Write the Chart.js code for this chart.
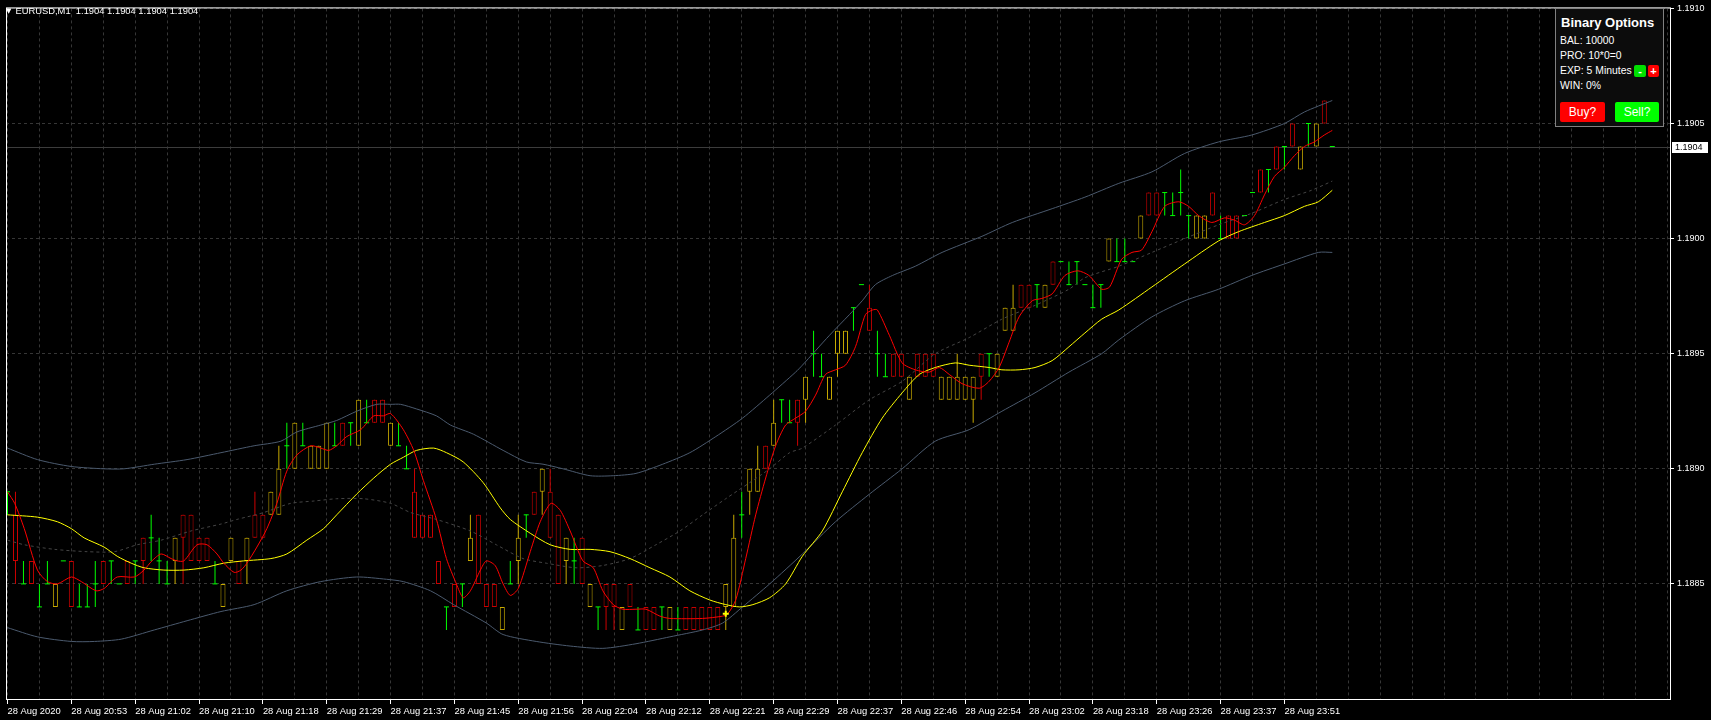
<!DOCTYPE html>
<html><head><meta charset="utf-8">
<script src="https://cdn.jsdelivr.net/npm/chart.js@4/dist/chart.umd.min.js"></script>
<style>
html,body{margin:0;padding:0;background:#000;overflow:hidden;}
#wrap{position:relative;width:1711px;height:720px;background:#000;}
#c{position:absolute;left:0;top:0;}
#hdr{position:absolute;left:6px;top:5px;color:#fff;font:9.4px "Liberation Sans",Arial,sans-serif;white-space:pre;line-height:12px;}
#hdr .tri{font:7px "DejaVu Sans",sans-serif;margin-right:4px;position:relative;top:-1px;}
#panel{position:absolute;left:1555px;top:8px;width:109px;height:119px;box-sizing:border-box;border:1px solid #808080;background:#0c0c0c;font-family:"Liberation Sans",Arial,sans-serif;color:#fff;}
#panel .ttl{position:absolute;left:5px;top:6px;font-weight:bold;font-size:13px;line-height:15px;white-space:nowrap;}
#panel .ln{position:absolute;left:4px;font-size:10.4px;line-height:13px;white-space:nowrap;}
#panel .sb{position:absolute;top:56px;width:12px;height:12px;border-radius:2px;color:#fff;font-weight:bold;font-size:11px;line-height:12px;text-align:center;}
#panel .btn{position:absolute;top:93px;height:20px;border-radius:2px;color:#fff;font-size:12px;line-height:20px;text-align:center;}
</style></head>
<body>
<div id="wrap">
<canvas id="c" width="1711" height="720"></canvas>
<div id="hdr"><span class="tri">▼</span><span id="hdrtxt"></span></div>
<div id="panel">
  <div class="ttl">Binary Options</div>
  <div class="ln" style="top:25px">BAL: 10000</div>
  <div class="ln" style="top:40px">PRO: 10*0=0</div>
  <div class="ln" style="top:55px">EXP: 5 Minutes</div>
  <div class="sb" style="left:78px;background:#00e000;">-</div>
  <div class="sb" style="left:92px;width:11px;background:#ff0000;">+</div>
  <div class="ln" style="top:70px">WIN: 0%</div>
  <div class="btn" style="left:4px;width:45px;background:#ff0000;">Buy?</div>
  <div class="btn" style="left:59px;width:44px;background:#00ff00;">Sell?</div>
</div>
</div>
<script>
// ---------- data ----------
const symbol = "EURUSD,M1";
const timeLabels = ["28 Aug 2020","28 Aug 20:53","28 Aug 21:02","28 Aug 21:10","28 Aug 21:18","28 Aug 21:29","28 Aug 21:37","28 Aug 21:45","28 Aug 21:56","28 Aug 22:04","28 Aug 22:12","28 Aug 22:21","28 Aug 22:29","28 Aug 22:37","28 Aug 22:46","28 Aug 22:54","28 Aug 23:02","28 Aug 23:18","28 Aug 23:26","28 Aug 23:37","28 Aug 23:51"];
const priceTicks = [1.1880,1.1885,1.1890,1.1895,1.1900,1.1905,1.1910];
const priceTickLabels = ["","1.1885","1.1890","1.1895","1.1900","1.1905","1.1910"];

const opens = [1.1889,1.1888,1.1885,1.1886,1.1884,1.1885,1.1884,1.1886,1.1886,1.1884,
1.1884,1.1885,1.1886,1.1886,1.1885,1.1886,1.1886,1.1887,1.1887,1.1886,
1.1885,1.1886,1.1888,1.1888,1.1887,1.1887,1.1885,1.1884,1.1886,1.1886,
1.1886,1.1888,1.1888,1.1888,1.1888,1.1891,1.1890,1.1891,1.1890,1.1890,
1.1890,1.1891,1.1892,1.1892,1.1891,1.1892,1.1893,1.1893,1.1891,1.1891,
1.1890,1.1889,1.1888,1.1888,1.1886,1.1884,1.1885,1.1885,1.1886,1.1888,
1.1885,1.1885,1.1883,1.1885,1.1886,1.1888,1.1889,1.1889,1.1889,1.1888,
1.1886,1.1886,1.1887,1.1884,1.1884,1.1885,1.1885,1.1883,1.1885,1.1883,
1.1884,1.1884,1.1884,1.1883,1.1883,1.1884,1.1884,1.1884,1.1884,1.1884,
1.1884,1.1884,1.1888,1.1889,1.1889,1.1891,1.1891,1.1893,1.1892,1.1893,
1.1893,1.1895,1.1894,1.1893,1.1895,1.1895,1.1897,1.1898,1.1897,1.1895,
1.1894,1.1895,1.1895,1.1893,1.1895,1.1895,1.1895,1.1893,1.1893,1.1893,
1.1893,1.1893,1.1895,1.1895,1.1894,1.1896,1.1896,1.1898,1.1898,1.1898,
1.1897,1.1899,1.1899,1.1898,1.1899,1.1898,1.1897,1.1898,1.1899,1.1899,
1.1899,1.1899,1.1900,1.1902,1.1902,1.1902,1.1901,1.1902,1.1901,1.1900,
1.1900,1.1902,1.1900,1.1901,1.1901,1.1901,1.1902,1.1903,1.1903,1.1904,
1.1904,1.1905,1.1903,1.1905,1.1904,1.1906,1.1904];

const highs = [1.1889,1.1889,1.1886,1.1886,1.1885,1.1886,1.1885,1.1886,1.1886,1.1885,
1.1885,1.1886,1.1886,1.1886,1.1885,1.1886,1.1886,1.1887,1.1888,1.1887,
1.1886,1.1887,1.1888,1.1888,1.1887,1.1887,1.1886,1.1885,1.1887,1.1886,
1.1887,1.1889,1.1888,1.1889,1.1891,1.1892,1.1892,1.1892,1.1891,1.1891,
1.1892,1.1892,1.1892,1.1892,1.1893,1.1893,1.1893,1.1893,1.1892,1.1892,
1.1891,1.1890,1.1888,1.1888,1.1886,1.1884,1.1885,1.1885,1.1888,1.1888,
1.1885,1.1885,1.1884,1.1886,1.1888,1.1888,1.1889,1.1890,1.1890,1.1888,
1.1887,1.1887,1.1887,1.1885,1.1884,1.1885,1.1885,1.1884,1.1885,1.1884,
1.1884,1.1884,1.1884,1.1884,1.1884,1.1884,1.1884,1.1884,1.1884,1.1884,
1.1885,1.1888,1.1889,1.1890,1.1891,1.1891,1.1893,1.1893,1.1893,1.1893,
1.1894,1.1896,1.1895,1.1894,1.1896,1.1896,1.1897,1.1898,1.1898,1.1896,
1.1895,1.1895,1.1895,1.1894,1.1895,1.1895,1.1895,1.1894,1.1894,1.1895,
1.1894,1.1894,1.1895,1.1895,1.1895,1.1897,1.1898,1.1898,1.1898,1.1898,
1.1898,1.1899,1.1899,1.1899,1.1899,1.1898,1.1898,1.1898,1.1900,1.1900,
1.1900,1.1899,1.1901,1.1902,1.1902,1.1902,1.1902,1.1903,1.1901,1.1901,
1.1901,1.1902,1.1901,1.1901,1.1901,1.1901,1.1902,1.1903,1.1903,1.1904,
1.1904,1.1905,1.1904,1.1905,1.1905,1.1906,1.1904];

const lows = [1.1888,1.1885,1.1885,1.1885,1.1884,1.1885,1.1884,1.1886,1.1884,1.1884,
1.1884,1.1884,1.1885,1.1885,1.1885,1.1885,1.1885,1.1885,1.1886,1.1885,
1.1885,1.1885,1.1885,1.1886,1.1886,1.1886,1.1885,1.1884,1.1886,1.1885,
1.1885,1.1887,1.1887,1.1888,1.1888,1.1890,1.1890,1.1891,1.1890,1.1890,
1.1890,1.1891,1.1891,1.1891,1.1891,1.1892,1.1892,1.1892,1.1891,1.1891,
1.1890,1.1887,1.1887,1.1887,1.1885,1.1883,1.1884,1.1884,1.1886,1.1885,
1.1884,1.1884,1.1883,1.1885,1.1885,1.1887,1.1888,1.1888,1.1887,1.1885,
1.1885,1.1885,1.1885,1.1884,1.1883,1.1883,1.1883,1.1883,1.1884,1.1883,
1.1883,1.1883,1.1883,1.1883,1.1883,1.1883,1.1883,1.1883,1.1883,1.1883,
1.1883,1.1884,1.1887,1.1888,1.1889,1.1890,1.1891,1.1892,1.1892,1.1891,
1.1892,1.1894,1.1894,1.1893,1.1894,1.1895,1.1896,1.1898,1.1896,1.1894,
1.1894,1.1894,1.1894,1.1893,1.1894,1.1894,1.1894,1.1893,1.1893,1.1893,
1.1893,1.1892,1.1893,1.1894,1.1894,1.1896,1.1896,1.1897,1.1897,1.1897,
1.1897,1.1898,1.1899,1.1898,1.1898,1.1898,1.1897,1.1897,1.1899,1.1899,
1.1899,1.1899,1.1900,1.1901,1.1901,1.1901,1.1901,1.1901,1.1900,1.1900,
1.1900,1.1901,1.1900,1.1900,1.1900,1.1901,1.1902,1.1902,1.1902,1.1903,
1.1903,1.1904,1.1903,1.1904,1.1904,1.1905,1.1904];

const closes = [1.1889,1.1886,1.1885,1.1885,1.1884,1.1885,1.1885,1.1886,1.1884,1.1884,
1.1884,1.1885,1.1885,1.1886,1.1885,1.1885,1.1886,1.1886,1.1887,1.1886,
1.1885,1.1887,1.1887,1.1886,1.1886,1.1886,1.1885,1.1885,1.1887,1.1885,
1.1887,1.1887,1.1887,1.1889,1.1890,1.1891,1.1892,1.1891,1.1891,1.1891,
1.1892,1.1891,1.1891,1.1892,1.1893,1.1892,1.1892,1.1892,1.1892,1.1891,
1.1890,1.1887,1.1887,1.1887,1.1885,1.1884,1.1884,1.1885,1.1887,1.1885,
1.1884,1.1884,1.1884,1.1885,1.1887,1.1888,1.1888,1.1890,1.1887,1.1885,
1.1887,1.1886,1.1885,1.1885,1.1884,1.1884,1.1884,1.1884,1.1884,1.1883,
1.1883,1.1883,1.1884,1.1884,1.1883,1.1883,1.1883,1.1883,1.1883,1.1883,
1.1885,1.1887,1.1888,1.1890,1.1890,1.1890,1.1892,1.1893,1.1892,1.1892,
1.1894,1.1895,1.1894,1.1894,1.1896,1.1896,1.1897,1.1898,1.1896,1.1895,
1.1894,1.1894,1.1894,1.1894,1.1894,1.1894,1.1894,1.1894,1.1894,1.1894,
1.1894,1.1894,1.1894,1.1895,1.1895,1.1897,1.1897,1.1897,1.1897,1.1898,
1.1898,1.1898,1.1899,1.1898,1.1899,1.1898,1.1897,1.1898,1.1900,1.1899,
1.1899,1.1899,1.1901,1.1901,1.1901,1.1902,1.1901,1.1902,1.1901,1.1901,
1.1901,1.1901,1.1900,1.1900,1.1900,1.1901,1.1902,1.1902,1.1903,1.1903,
1.1904,1.1904,1.1904,1.1905,1.1905,1.1905,1.1904];

// indicator lines: [bar index, price]
const fastMA = [[0,1.18890],[0.9,1.18885],[2.1,1.18874],[3.75,1.18856],[5,1.18851],[6.25,1.18850],[8,1.18853],[9.25,1.18851],[11.1,1.18847],[12.1,1.18848],[13.75,1.18853],[15.9,1.18853],[17.1,1.18856],[18.1,1.18860],[19.25,1.18863],[20.5,1.18861],[21.25,1.18860],[22.1,1.18860],[23.75,1.18867],[25,1.18867],[26.25,1.18863],[27.1,1.18859],[28.4,1.18855],[29.25,1.18856],[30,1.18859],[31.25,1.18866],[32.5,1.18874],[33.75,1.18885],[35,1.18899],[36.25,1.18906],[38,1.18910],[39.25,1.18909],[40.25,1.18908],[41.25,1.18910],[42.5,1.18914],[44.25,1.18917],[45.9,1.18923],[47.1,1.18923],[48,1.18924],[49.6,1.18917],[50.9,1.18908],[52.1,1.18895],[53.75,1.18878],[55,1.18861],[56.25,1.18850],[57.1,1.18844],[58,1.18847],[59.25,1.18856],[60,1.18860],[61.1,1.18858],[62.1,1.18850],[63,1.18845],[64,1.18848],[65.5,1.18864],[66.75,1.18877],[68.1,1.18885],[69.25,1.18882],[70.5,1.18873],[72.1,1.18860],[73.4,1.18857],[74.6,1.18847],[75.9,1.18841],[77.1,1.18839],[78.75,1.18839],[80,1.18839],[81.75,1.18836],[83,1.18835],[87.1,1.18835],[89.6,1.18836],[90.25,1.18837],[91.25,1.18843],[92.5,1.18861],[93.75,1.18880],[95,1.18896],[96.25,1.18910],[97.5,1.18919],[98.75,1.18922],[100,1.18925],[101.25,1.18932],[102.5,1.18941],[103.75,1.18943],[105,1.18945],[106.25,1.18953],[107.5,1.18967],[108.4,1.18969],[109,1.18969],[110.5,1.18958],[112.1,1.18946],[113.75,1.18943],[115.5,1.18942],[116.75,1.18944],[118,1.18941],[119.6,1.18937],[121.75,1.18935],[123,1.18938],[124.25,1.18944],[125.5,1.18955],[126.75,1.18966],[128.4,1.18973],[129.6,1.18974],[130.9,1.18976],[132.5,1.18984],[134.1,1.18986],[135.5,1.18984],[137.1,1.18978],[138.1,1.18979],[139.6,1.18991],[140.9,1.18994],[142.1,1.18995],[143.4,1.19003],[145,1.19014],[146.75,1.19016],[148,1.19014],[149.25,1.19010],[150.9,1.19007],[152.5,1.19009],[153.75,1.19008],[155,1.19006],[156.25,1.19010],[157.5,1.19019],[158.75,1.19027],[160,1.19031],[161.25,1.19036],[162.5,1.19040],[163.75,1.19042],[165,1.19045],[166,1.19047]];

const slowMA = [[0,1.18880],[3.75,1.18879],[6.25,1.18877],[8,1.18874],[9.6,1.18870],[12.1,1.18866],[13.75,1.18862],[15.5,1.18859],[17.1,1.18857],[19.6,1.18856],[22.1,1.18856],[24.6,1.18857],[27.1,1.18859],[29.6,1.18860],[33,1.18861],[35,1.18863],[37.5,1.18869],[39.6,1.18874],[41.25,1.18880],[43.75,1.18889],[45.9,1.18896],[48,1.18902],[49.6,1.18905],[51.25,1.18908],[53.4,1.18909],[55,1.18907],[57.1,1.18903],[59.6,1.18894],[61.75,1.18883],[63,1.18878],[65.5,1.18872],[68,1.18867],[70.5,1.18865],[73,1.18865],[75.5,1.18864],[78,1.18861],[80.5,1.18857],[83,1.18853],[85.5,1.18847],[88,1.18843],[90,1.18841],[91.75,1.18840],[93.4,1.18841],[95.5,1.18844],[97.5,1.18850],[99.6,1.18862],[102.1,1.18873],[104.6,1.18890],[107.1,1.18907],[109.6,1.18922],[112.1,1.18933],[114.25,1.18941],[116.25,1.18944],[118.75,1.18946],[120.5,1.18945],[123,1.18944],[124.6,1.18943],[126.75,1.18943],[128.75,1.18944],[130.9,1.18947],[133,1.18953],[135,1.18959],[137.1,1.18965],[139.25,1.18969],[143.4,1.18979],[147.5,1.18989],[151.75,1.18999],[154.25,1.19003],[157.5,1.19007],[160,1.19010],[162.5,1.19014],[164.25,1.19016],[166,1.19021]];

const bandMid = [[0,1.18869],[2.1,1.18867],[5.9,1.18865],[10,1.18864],[13.4,1.18864],[16.25,1.18867],[19.25,1.18869],[23,1.18873],[26.75,1.18876],[28.75,1.18878],[32.1,1.18881],[35.5,1.18885],[38.4,1.18886],[41.25,1.18887],[44.6,1.18887],[48,1.18885],[50.5,1.18881],[53.75,1.18878],[58,1.18873],[61.25,1.18867],[64.6,1.18861],[67.5,1.18859],[71.25,1.18857],[74.6,1.18858],[78,1.18861],[81.25,1.18867],[84.25,1.18873],[87.1,1.18880],[90,1.18887],[93,1.18894],[95.5,1.18900],[98,1.18907],[99.6,1.18909],[103.75,1.18919],[108,1.18930],[112.1,1.18938],[116.25,1.18950],[120.5,1.18957],[124.6,1.18965],[128.75,1.18971],[133,1.18978],[135,1.18983],[139.25,1.18988],[143.4,1.18994],[147.5,1.19000],[151.75,1.19006],[155.9,1.19011],[160,1.19017],[163.4,1.19021],[166,1.19025]];

const bandUpper = [[0,1.18909],[3.75,1.18904],[8,1.18901],[12.1,1.18900],[14.6,1.18900],[18.4,1.18902],[22.5,1.18904],[26.75,1.18907],[30.9,1.18910],[34.25,1.18912],[36.25,1.18916],[39.25,1.18919],[41.25,1.18921],[43.75,1.18925],[46.25,1.18928],[48,1.18928],[49.25,1.18928],[51.25,1.18926],[53.75,1.18923],[55.5,1.18919],[58.4,1.18915],[62.1,1.18908],[65,1.18903],[67.1,1.18902],[69.6,1.18900],[73,1.18897],[75.9,1.18897],[78.75,1.18898],[82.1,1.18902],[85.5,1.18907],[88.75,1.18914],[92.1,1.18922],[95.5,1.18932],[98.75,1.18942],[99.6,1.18945],[103,1.18958],[105.5,1.18967],[107.1,1.18973],[108.75,1.18980],[110.9,1.18984],[113.75,1.18988],[117.1,1.18994],[122.1,1.19001],[125.9,1.19007],[130.9,1.19013],[135,1.19018],[139.25,1.19024],[143.4,1.19029],[147.5,1.19037],[151.75,1.19042],[155.9,1.19045],[160,1.19050],[162.5,1.19055],[166,1.19060]];

const bandLower = [[0,1.18831],[3.75,1.18827],[8,1.18825],[10.9,1.18825],[14.25,1.18826],[18.4,1.18830],[22.5,1.18834],[26.75,1.18838],[30.9,1.18841],[35,1.18847],[39.25,1.18851],[43.75,1.18853],[47.5,1.18852],[49.6,1.18851],[53,1.18847],[55.9,1.18841],[60,1.18833],[62.1,1.18828],[66.25,1.18825],[70.5,1.18823],[74.6,1.18822],[78.75,1.18824],[83,1.18827],[87.1,1.18830],[89.6,1.18833],[92.1,1.18840],[95.5,1.18850],[99.6,1.18863],[103.75,1.18877],[108,1.18889],[112.1,1.18900],[116.25,1.18912],[120.5,1.18917],[124.6,1.18925],[128.75,1.18933],[133,1.18942],[137.1,1.18950],[139.25,1.18956],[143.4,1.18966],[147.5,1.18973],[151.75,1.18978],[155.9,1.18984],[160,1.18989],[164.25,1.18994],[166,1.18994]];

const signalIdx = [90];
const signalPrice = [1.18837];

// ---------- styles ----------
const BULL = '#c8aa00', BEAR = '#cc0000', DOJI = '#00ff00';
const GRID = '#363636';
const FONT = '"Liberation Sans", Arial, sans-serif';

// ---------- build datasets ----------
const N = closes.length;
const wickData = [], wickCols = [], bodyData = [], bodyCols = [], capData = [];
for (let i = 0; i < N; i++) {
  const o = opens[i], c = closes[i], h = highs[i], l = lows[i];
  const col = o === c ? DOJI : (c > o ? BULL : BEAR);
  if (h > l) { wickData.push({x: i, y: [l, h]}); wickCols.push(col); }
  if (o !== c) { bodyData.push({x: i, y: [Math.min(o, c), Math.max(o, c)]}); bodyCols.push(col); }
  else capData.push({x: i, y: o});
}
const pts = arr => arr.map(p => ({x: p[0], y: p[1]}));
const last = N - 1;
document.getElementById('hdrtxt').textContent =
  symbol + '  ' + [opens[last], highs[last], lows[last], closes[last]].map(v => v.toFixed(4)).join(' ');

const gridIdx = [];
for (let v = 0; v <= 208; v += 4) gridIdx.push(v);
const labelAt = v => (v % 8 === 0 && v / 8 < timeLabels.length) ? timeLabels[v / 8] : '';
const yLabelAt = v => { const k = priceTicks.findIndex(t => Math.abs(t - v) < 1e-7); return k >= 0 ? priceTickLabels[k] : ''; };

const framePlugin = {
  id: 'frame',
  beforeDatasetsDraw(chart) {
    const {ctx, chartArea: a, scales: {y}} = chart;
    const py = Math.round(y.getPixelForValue(closes[last])) + 0.5;
    ctx.save();
    ctx.strokeStyle = '#3c3c3c'; ctx.lineWidth = 1;
    ctx.beginPath(); ctx.moveTo(a.left, py); ctx.lineTo(a.right, py); ctx.stroke();
    ctx.restore();
  },
  afterDraw(chart) {
    const {ctx, chartArea: a, scales: {y}} = chart;
    ctx.save();
    ctx.strokeStyle = '#ffffff'; ctx.lineWidth = 1;
    ctx.strokeRect(a.left + 0.5, a.top - 0.5, a.right - a.left, a.bottom - a.top + 1);
    const py = Math.round(y.getPixelForValue(closes[last]));
    ctx.fillStyle = '#ffffff';
    ctx.fillRect(a.right + 2, py - 5, 36, 11);
    ctx.fillStyle = '#000000';
    ctx.font = '9px ' + FONT;
    ctx.textBaseline = 'middle'; ctx.textAlign = 'left';
    ctx.fillText(closes[last].toFixed(4), a.right + 5, py + 0.5);
    ctx.restore();
  }
};

new Chart(document.getElementById('c'), {
  type: 'bar',
  data: {
    datasets: [
      {type: 'line', label: 'signal', data: signalIdx.map((x, k) => ({x, y: signalPrice[k]})), showLine: false,
       pointStyle: 'cross', pointRadius: 3, pointBorderColor: '#ffff00', pointBorderWidth: 2, order: 0},
      {type: 'line', label: 'fast', data: pts(fastMA), borderColor: '#ff0000', borderWidth: 1, pointRadius: 0, tension: 0.25, order: 1},
      {type: 'line', label: 'slow', data: pts(slowMA), borderColor: '#ffff00', borderWidth: 1, pointRadius: 0, tension: 0.25, order: 1},
      {type: 'line', label: 'mid', data: pts(bandMid), borderColor: '#444444', borderWidth: 1, borderDash: [3, 3], pointRadius: 0, tension: 0.25, order: 2},
      {type: 'line', label: 'upper', data: pts(bandUpper), borderColor: '#4b5a6e', borderWidth: 1, pointRadius: 0, tension: 0.25, order: 2},
      {type: 'line', label: 'lower', data: pts(bandLower), borderColor: '#4b5a6e', borderWidth: 1, pointRadius: 0, tension: 0.25, order: 2},
      {type: 'line', label: 'caps', data: capData, showLine: false, pointStyle: 'line', pointRadius: 2.5,
       pointBorderColor: DOJI, pointBorderWidth: 1, order: 3},
      {type: 'bar', label: 'bodies', data: bodyData, backgroundColor: '#000000', borderColor: bodyCols, borderWidth: 1,
       borderSkipped: false, barThickness: 5, grouped: false, inflateAmount: 0, order: 4},
      {type: 'bar', label: 'wicks', data: wickData, backgroundColor: wickCols, borderWidth: 0,
       barThickness: 1, grouped: false, inflateAmount: 0, order: 5}
    ]
  },
  options: {
    responsive: false, animation: false, devicePixelRatio: 1,
    layout: {padding: {left: 2, top: 3, right: 0, bottom: 0}},
    plugins: {legend: {display: false}, tooltip: {enabled: false}},
    scales: {
      x: {
        type: 'linear', min: -0.1875, max: 208.3125, offset: false,
        afterBuildTicks: s => { s.ticks = gridIdx.map(v => ({value: v})); },
        afterFit: s => { s.height = 21; },
        grid: {color: GRID, lineWidth: 1, offset: false, drawTicks: true, tickLength: 5, tickWidth: 1,
               tickBorderDash: [], tickColor: c => labelAt(c.tick.value) ? '#ffffff' : 'rgba(0,0,0,0)'},
        border: {display: false, dash: [3, 3]},
        ticks: {autoSkip: false, maxRotation: 0, minRotation: 0, align: 'start', padding: 2, color: '#ffffff',
                font: {family: FONT, size: 9.4}, callback: v => labelAt(v)}
      },
      y: {
        type: 'linear', position: 'right', min: 1.1880, max: 1.1910, beginAtZero: false,
        afterBuildTicks: s => { s.ticks = priceTicks.map(v => ({value: v})); },
        afterFit: s => { s.width = 41; },
        grid: {color: GRID, lineWidth: 1, drawTicks: true, tickLength: 4, tickWidth: 1, tickBorderDash: [],
               tickColor: c => yLabelAt(c.tick.value) ? '#ffffff' : 'rgba(0,0,0,0)'},
        border: {display: false, dash: [3, 3]},
        ticks: {padding: 3, color: '#ffffff', crossAlign: 'near', font: {family: FONT, size: 9}, callback: v => yLabelAt(v)}
      }
    }
  },
  plugins: [framePlugin]
});
</script>
</body></html>
